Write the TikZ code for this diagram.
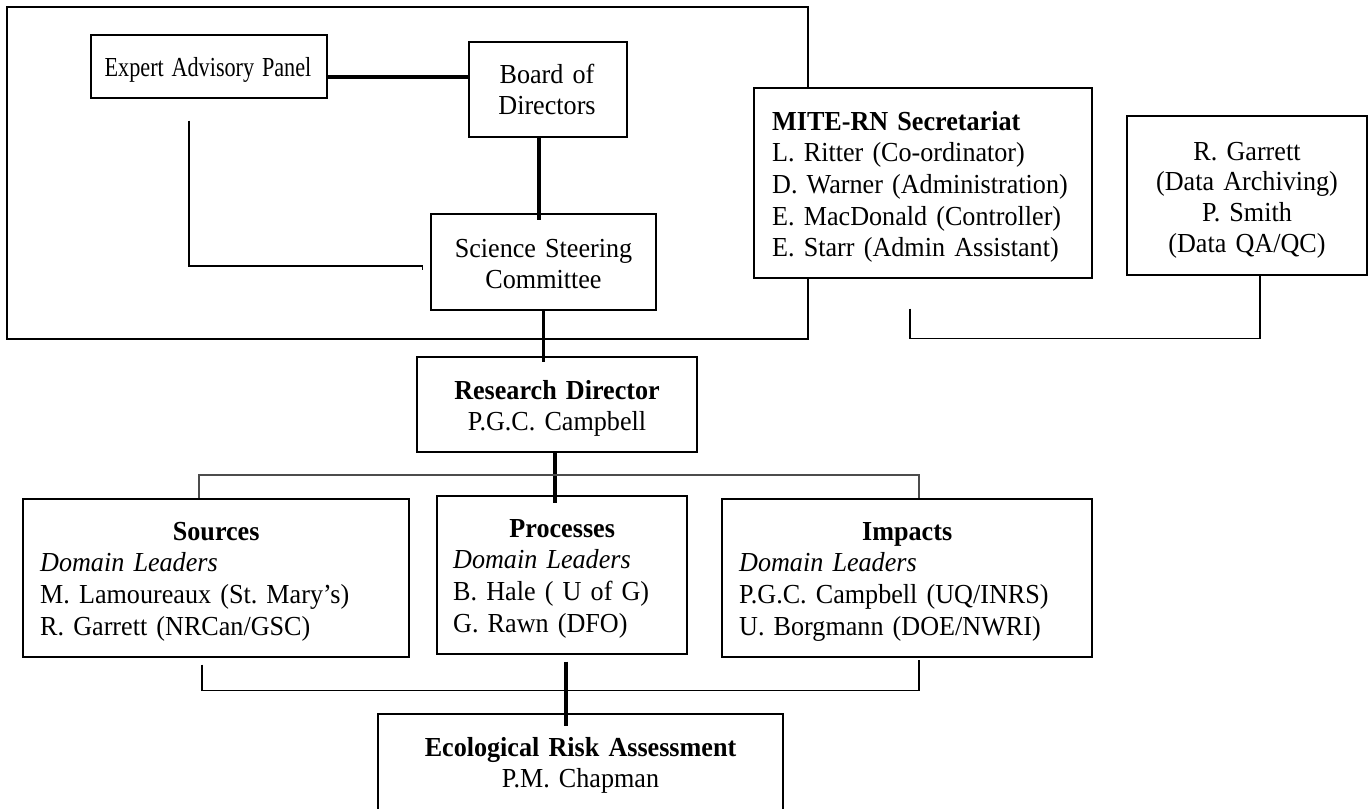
\documentclass[tikz,border=0pt]{standalone}
\usepackage{graphicx}
\usepackage{fontspec}
\setmainfont{Liberation Serif}[FakeStretch=0.95]
\usetikzlibrary{calc}
\frenchspacing
\newcommand{\bodyfont}{\fontsize{27.5}{31.7}\selectfont}
\tikzset{
  outerframe/.style={draw, line width=2pt, inner sep=0pt},
  box/.style={draw, line width=1.2pt, fill=white, inner sep=0pt},
  txt/.style={inner sep=0pt, font=\bodyfont},
  ctxt/.style={txt, align=center, anchor=base},
  ltxt/.style={txt, align=left, anchor=base west},
  thickc/.style={line width=3.3pt},
  thinc/.style={line width=1.7pt},
}
\begin{document}
\begin{tikzpicture}[x=1pt,y=-1pt]
\path[use as bounding box] (0,0) rectangle (1372,808);
\clip (0,0) rectangle (1372,808);
% frame
\node[outerframe, minimum width=801pt, minimum height=332pt] (outer) at (407.5,173) {};
% boxes
\node[box, minimum width=236pt, minimum height=63pt] (eap) at (209,66.5) {};
\node[box, minimum width=158pt, minimum height=95pt] (bod) at (548,89.5) {};
\node[box, minimum width=225pt, minimum height=96pt] (ssc) at (543.5,262) {};
\node[box, minimum width=338pt, minimum height=190pt] (mite) at (923,183) {};
\node[box, minimum width=240pt, minimum height=159pt] (rb) at (1247,195.5) {};
\node[box, minimum width=280pt, minimum height=95pt] (rd) at (557,404.5) {};
\node[box, minimum width=386pt, minimum height=158pt] (src) at (216,578) {};
\node[box, minimum width=250pt, minimum height=158pt] (prc) at (562,575) {};
\node[box, minimum width=370pt, minimum height=158pt] (imp) at (907,578) {};
\node[box, minimum width=405pt, minimum height=102pt] (era) at (580.5,765) {};
% texts
\node[ctxt, text width=236pt] (eapT) at (208,77) {\scalebox{0.85}[1]{Expert Advisory Panel}};
\node[ctxt, text width=158pt] (bodT) at (547,83) {Board of\\Directors};
\node[ctxt, text width=225pt] (sscT) at (543.5,257) {Science Steering\\Committee};
\node[ctxt, text width=280pt] (rdT) at (557,399) {\textbf{Research Director}\\P.G.C. Campbell};
\node[ltxt, text width=310pt] (miteT) at (772,130) {\textbf{MITE-RN Secretariat}\\L. Ritter (Co-ordinator)\\D. Warner (Administration)\\E. MacDonald (Controller)\\E. Starr (Admin Assistant)};
\node[ctxt, text width=240pt, font=\fontsize{27.5}{30.7}\selectfont] (rbT) at (1247,160) {R. Garrett\\(Data Archiving)\\P. Smith\\(Data QA/QC)};
\node[ltxt, text width=352pt] (srcT) at (40,540) {\makebox[\linewidth]{\textbf{Sources}}\\\textit{Domain Leaders}\\M. Lamoureaux (St. Mary’s)\\R. Garrett (NRCan/GSC)};
\node[ltxt, text width=218pt] (prcT) at (453,537) {\makebox[\linewidth]{\textbf{Processes}}\\\textit{Domain Leaders}\\B. Hale ( U of G)\\G. Rawn (DFO)};
\node[ltxt, text width=336pt] (impT) at (739,540) {\makebox[\linewidth]{\textbf{Impacts}}\\\textit{Domain Leaders}\\P.G.C. Campbell (UQ/INRS)\\U. Borgmann (DOE/NWRI)};
\node[ctxt, text width=405pt] (eraT) at (580.5,756) {\textbf{Ecological Risk Assessment}\\P.M. Chapman};
% connectors
\draw[thickc] ([yshift=-10.5pt]eap.east) -- ([yshift=-10.5pt]eap.east -| bod.west);
\draw[thickc, shorten >=-7pt] ([xshift=-9pt]bod.south) -- ([xshift=-9pt]bod.south |- ssc.north);
\draw[thickc, shorten >=-6pt] (ssc.south) -- (ssc.south |- rd.north);
\draw[thickc, shorten >=-8pt] ([xshift=-2pt]rd.south) -- ([xshift=-2pt]rd.south |- prc.north);
\draw[thickc, shorten >=-13pt] ([xshift=4pt,yshift=-7pt]prc.south) -- ([xshift=4pt]prc.south |- era.north);
\draw[thinc] ([xshift=-20pt,yshift=-22pt]eap.south) |- ([xshift=-8pt,yshift=-4pt]ssc.west) -- ++(0,4);
\draw[thinc] ([xshift=-13pt,yshift=-30pt]mite.south) -- ++(0,30) -| ([xshift=13pt]rb.south) -- ++(-4,0);
\draw[thinc, draw=black!70, line width=2pt] ([xshift=-17pt]src.north) |- ([xshift=12pt,yshift=23pt]imp.north) -- ([xshift=12pt]imp.north);
\draw[thinc] ([xshift=-14pt,yshift=-7pt]src.south) |- ([xshift=12pt,yshift=-33pt]imp.south) -- ([xshift=12pt,yshift=-2pt]imp.south);
\end{tikzpicture}
\end{document}
